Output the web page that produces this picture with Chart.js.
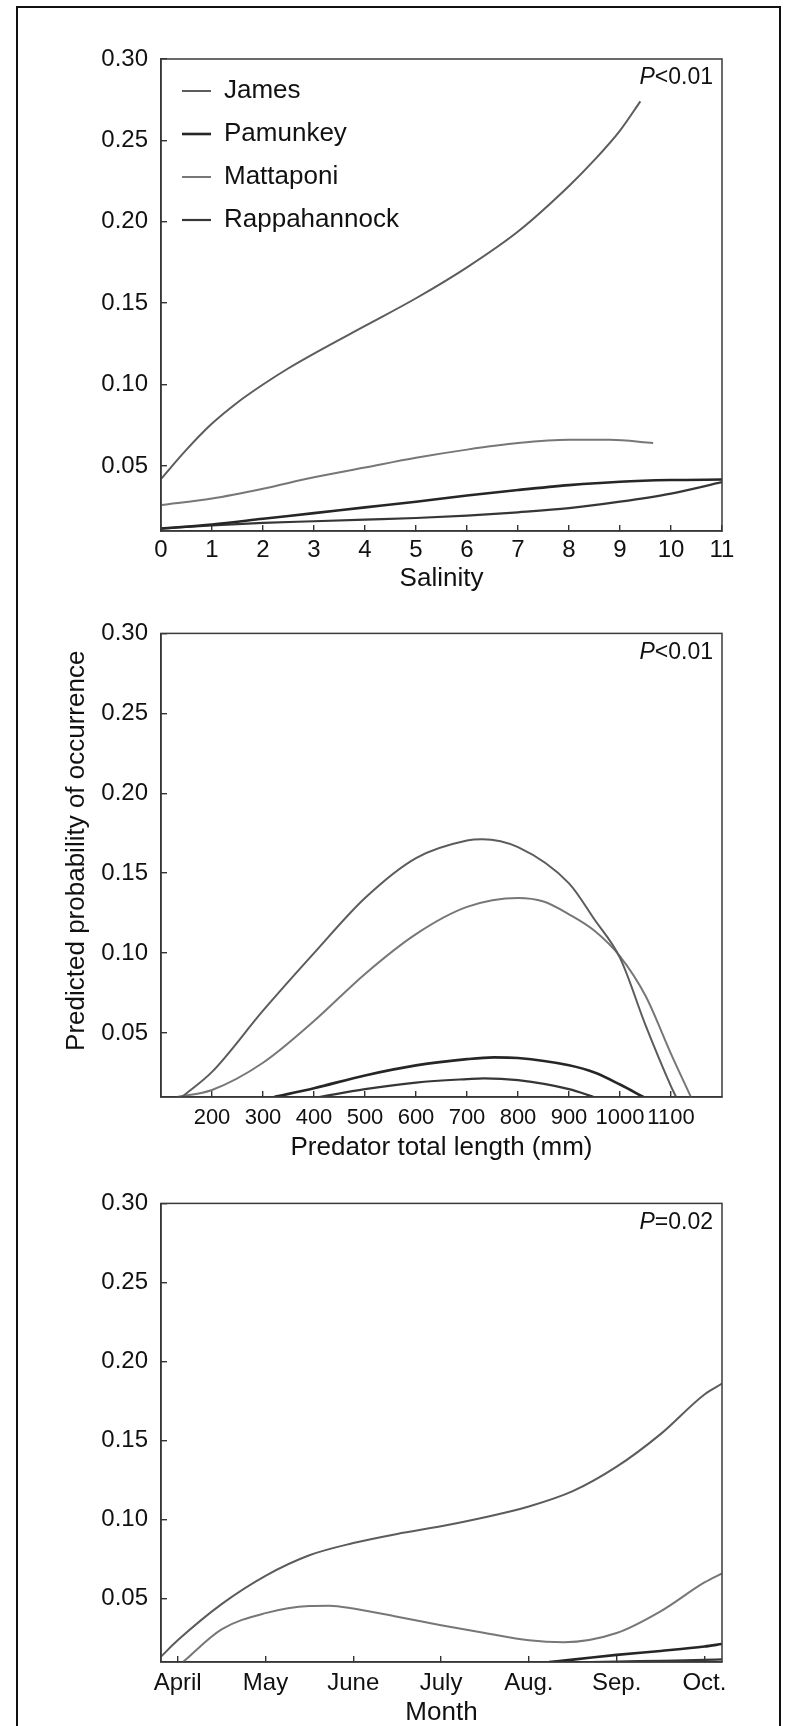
<!DOCTYPE html>
<html><head><meta charset="utf-8">
<script src="https://cdn.jsdelivr.net/npm/chart.js@4.4.1/dist/chart.umd.min.js"></script>
<style>
html,body{margin:0;padding:0;background:#fff;}
body{width:786px;height:1726px;overflow:hidden;position:relative;}
.frame{position:absolute;left:16px;top:6px;width:765px;height:1760px;border:2.5px solid #111;border-bottom:none;box-sizing:border-box;}
canvas{position:absolute;left:0;}
</style></head><body>
<div class="frame"></div>
<canvas id="p1" width="786" height="580" style="top:20px"></canvas>
<canvas id="p2" width="786" height="570" style="top:600px"></canvas>
<canvas id="p3" width="786" height="576" style="top:1170px"></canvas>
<script>
// ---------- data ----------
const seriesNames = ['James','Pamunkey','Mattaponi','Rappahannock'];
const yTickValues = [0.05,0.10,0.15,0.20,0.25,0.30];
const pValues = ['<0.01','<0.01','=0.02'];

// Panel 1: salinity
const salTicks = [0,1,2,3,4,5,6,7,8,9,10,11];
const salJamesX = [0,0.5,1,1.5,2,2.5,3,4,5,6,7,8,8.5,9,9.4];
const salJamesY = [0.042,0.060,0.076,0.089,0.100,0.110,0.119,0.136,0.153,0.172,0.194,0.222,0.238,0.256,0.274];
const salPamX = [0,1,2,3,4,5,6,7,8,9,10,11];
const salPamY = [0.0115,0.014,0.0175,0.021,0.0245,0.028,0.0318,0.0352,0.0382,0.0403,0.0413,0.0416];
const salMatX = [0,1,2,3,4,5,6,7,8,8.8,9.65];
const salMatY = [0.026,0.030,0.036,0.043,0.049,0.055,0.060,0.064,0.066,0.066,0.064];
const salRapX = [0,1,2,3,4,5,6,7,8,9,10,11];
const salRapY = [0.0115,0.0135,0.015,0.016,0.017,0.018,0.0195,0.0215,0.024,0.028,0.033,0.040];

// Panel 2: predator total length (mm)
const lenTicks = [200,300,400,500,600,700,800,900,1000,1100];
const lenJamesX = [141,200,300,400,500,600,700,730,800,900,950,1000,1050,1100,1110];
const lenJamesY = [0.01,0.0257,0.064,0.100,0.1345,0.1595,0.1705,0.1713,0.1663,0.1436,0.121,0.097,0.055,0.0167,0.01];
const lenPamX = [322,400,500,600,700,753,800,900,950,1000,1046];
const lenPamY = [0.01,0.0155,0.0235,0.0298,0.0337,0.0348,0.0344,0.0298,0.0253,0.0178,0.01];
const lenMatX = [132,200,300,400,500,600,700,800,850,900,950,1000,1050,1100,1139];
const lenMatY = [0.01,0.0144,0.0314,0.0575,0.087,0.1119,0.1289,0.1345,0.1323,0.1243,0.114,0.098,0.0733,0.037,0.01];
const lenRapX = [410,500,600,700,733,800,900,949];
const lenRapY = [0.01,0.0149,0.019,0.0212,0.0217,0.0205,0.0149,0.01];

// Panel 3: month (April = 4)
const monthTicks = [4,5,6,7,8,9,10];
const monthLabels = ['April','May','June','July','Aug.','Sep.','Oct.'];
const monJamesX = [3.81,4,4.5,5,5.5,6,6.5,7,7.5,8,8.5,9,9.5,10,10.2];
const monJamesY = [0.0134,0.0237,0.0466,0.0645,0.0775,0.0852,0.0910,0.0958,0.1015,0.1083,0.1180,0.1335,0.1541,0.1792,0.186];
const monPamX = [8.23,8.5,9,9.5,10,10.2];
const monPamY = [0.01,0.0115,0.0145,0.017,0.0198,0.0214];
const monMatX = [4.06,4.5,5,5.5,5.73,6,6.5,7,7.5,8,8.4,9,9.5,10,10.2];
const monMatY = [0.01,0.0306,0.0409,0.0454,0.0456,0.0438,0.0386,0.0333,0.0283,0.0237,0.0225,0.0283,0.042,0.0603,0.066];
const monRapX = [8.7,9,9.5,10,10.2];
const monRapY = [0.01,0.0103,0.0108,0.0113,0.0116];

// ---------- styling ----------
const FONT = '"Liberation Sans", Arial, Helvetica, sans-serif';
const lineColors = ['#5c5c5c','#262626','#777777','#363636'];
const lineWidths = [2,2.6,2,2.2];

function pts(xs, ys){ return xs.map((x,i)=>({x:x, y:ys[i]})); }
function ds(i, xs, ys){
  return {label:seriesNames[i], data:pts(xs,ys), borderColor:lineColors[i], backgroundColor:lineColors[i],
    borderWidth:lineWidths[i], pointRadius:0, cubicInterpolationMode:'monotone', fill:false};
}

const legendNudge = {
  id:'legendNudge',
  afterLayout(chart){
    const l = chart.legend;
    if (l && l.options.display){
      l.left = chart.chartArea.left + 4; l.top = chart.chartArea.top + 2;
      l.right = l.left + l.width; l.bottom = l.top + l.height;
    }
  }
};

const boxPlugin = {
  id:'boxPlugin',
  afterDraw(chart){
    const a = chart.chartArea, ctx = chart.ctx;
    ctx.save();
    ctx.strokeStyle = '#3a3a3a'; ctx.lineWidth = 1.5;
    ctx.strokeRect(a.left, a.top, a.right - a.left, a.bottom - a.top);
    const p = chart.options.plugins.pLabel;
    if (p && p.text){
      ctx.fillStyle = '#111';
      ctx.textBaseline = 'middle';
      ctx.font = '23px ' + FONT;
      const w2 = ctx.measureText(p.text).width;
      ctx.font = 'italic 23px ' + FONT;
      const w1 = ctx.measureText('P').width;
      const xr = a.right - 9, y = a.top + 19;
      ctx.fillText('P', xr - w2 - w1, y);
      ctx.font = '23px ' + FONT;
      ctx.fillText(p.text, xr - w2, y);
    }
    ctx.restore();
  }
};

function makeChart(id, o){
  const gridOpts = {drawOnChartArea:false, drawTicks:true, tickLength:-6, color:'#333', lineWidth:1.4};
  const cfg = {
    type:'line',
    data:{datasets:o.datasets},
    options:{
      responsive:false, animation:false, devicePixelRatio:1,
      layout:{padding:{left:0, right:64, top:o.padTop, bottom:0}},
      plugins:{
        tooltip:{enabled:false},
        pLabel:{text:o.p},
        legend: o.legend ? {
          display:true, position:'chartArea', align:'start',
          labels:{usePointStyle:true, pointStyle:'line', pointStyleWidth:29, color:'#111',
            font:{family:FONT, size:26}, padding:17}
        } : {display:false}
      },
      scales:{
        x:{type:'linear', min:o.xmin, max:o.xmax,
          afterFit(s){ s.height = o.xh; },
          afterBuildTicks(s){ s.ticks = o.xticks.map(v=>({value:v})); },
          grid:gridOpts, border:{display:true, color:'#333', width:1.5},
          ticks:{padding:o.xpad, color:'#111', font:{family:FONT, size:o.xfs}, maxRotation:0, minRotation:0, autoSkip:false,
            callback:o.xcb || (v=>String(v))},
          title:{display:true, text:o.xtitle, color:'#111', font:{family:FONT, size:26}, padding:{top:0, bottom:o.xtpad}}
        },
        y:{type:'linear', min:0.01, max:0.30,
          afterFit(s){ s.width = 161; },
          afterBuildTicks(s){ s.ticks = yTickValues.map(v=>({value:v})); },
          grid:gridOpts, border:{display:true, color:'#333', width:1.5},
          ticks:{padding:19, color:'#111', font:{family:FONT, size:24}, callback:v=>Number(v).toFixed(2)},
          title: o.ytitle ? {display:true, text:o.ytitle, color:'#111', font:{family:FONT, size:26}, padding:{top:61, bottom:0}} : {display:false}
        }
      }
    },
    plugins:[legendNudge, boxPlugin]
  };
  return new Chart(document.getElementById(id), cfg);
}

makeChart('p1', {
  datasets:[ds(0,salJamesX,salJamesY), ds(1,salPamX,salPamY), ds(2,salMatX,salMatY), ds(3,salRapX,salRapY)],
  padTop:39, xh:69, xpad:10.6, xfs:24, xtpad:5.4, xmin:0, xmax:11, xticks:salTicks,
  xtitle:'Salinity', p:pValues[0], legend:true
});
makeChart('p2', {
  datasets:[ds(0,lenJamesX,lenJamesY), ds(1,lenPamX,lenPamY), ds(2,lenMatX,lenMatY), ds(3,lenRapX,lenRapY)],
  padTop:23, xh:73, xpad:13.8, xfs:22, xtpad:6.4, xmin:100, xmax:1200, xticks:lenTicks,
  xtitle:'Predator total length (mm)', p:pValues[1], ytitle:'    Predicted probability of occurrence'
});
makeChart('p3', {
  datasets:[ds(0,monJamesX,monJamesY), ds(1,monPamX,monPamY), ds(2,monMatX,monMatY), ds(3,monRapX,monRapY)],
  padTop:20, xh:84, xpad:12.6, xfs:24, xtpad:17.4, xmin:3.81, xmax:10.2, xticks:monthTicks,
  xcb:(v)=>monthLabels[monthTicks.indexOf(v)],
  xtitle:'Month', p:pValues[2]
});
</script>
</body></html>
